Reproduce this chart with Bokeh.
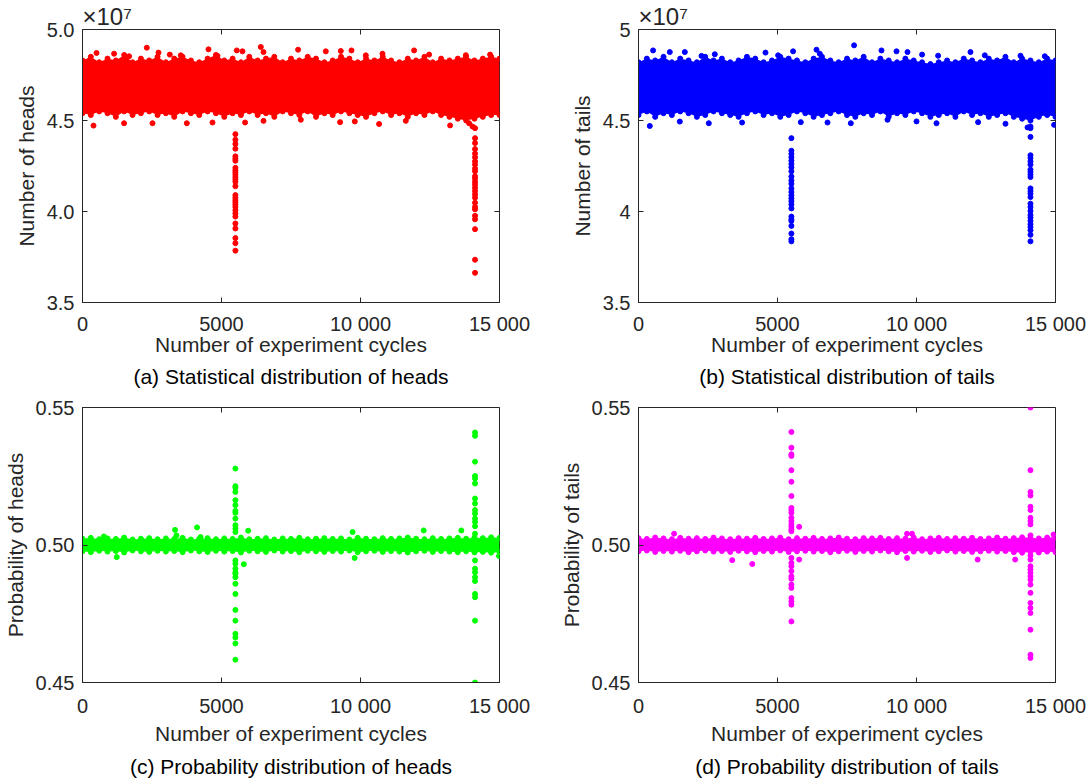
import math
from bokeh.plotting import figure
from bokeh.layouts import column, row
from bokeh.models import Range1d, Title, FixedTicker
from bokeh.embed import file_html
from bokeh.resources import INLINE

# ---------------- data ----------------
x_ticks = [0, 5000, 10000, 15000]
x_tick_labels = ["0", "5000", "10 000", "15 000"]

band_x = [0, 300, 600, 900, 1200, 1500, 1800, 2100, 2400, 2700,
          3000, 3300, 3600, 3900, 4200, 4500, 4800, 5100, 5400, 5700,
          6000, 6300, 6600, 6900, 7200, 7500, 7800, 8100, 8400, 8700,
          9000, 9300, 9600, 9900, 10200, 10500, 10800, 11100, 11400, 11700,
          12000, 12300, 12600, 12900, 13200, 13500, 13800, 14100, 14400, 14700, 15000]

# (a) heads count, units of 1e7
heads_upper = [4.83, 4.85, 4.82, 4.84, 4.83, 4.86, 4.82, 4.84, 4.83, 4.85,
               4.82, 4.84, 4.85, 4.83, 4.82, 4.84, 4.86, 4.83, 4.84, 4.82,
               4.85, 4.83, 4.84, 4.85, 4.82, 4.84, 4.83, 4.85, 4.84, 4.82,
               4.83, 4.85, 4.84, 4.82, 4.84, 4.83, 4.85, 4.83, 4.82, 4.84,
               4.83, 4.85, 4.82, 4.84, 4.83, 4.84, 4.85, 4.83, 4.84, 4.85, 4.84]
heads_lower = [4.54, 4.53, 4.55, 4.54, 4.52, 4.55, 4.53, 4.54, 4.55, 4.53,
               4.54, 4.52, 4.55, 4.54, 4.53, 4.55, 4.54, 4.52, 4.54, 4.53,
               4.55, 4.53, 4.54, 4.52, 4.55, 4.54, 4.53, 4.55, 4.52, 4.54,
               4.53, 4.55, 4.54, 4.53, 4.52, 4.54, 4.55, 4.53, 4.54, 4.52,
               4.54, 4.53, 4.55, 4.53, 4.52, 4.51, 4.50, 4.51, 4.52, 4.53, 4.53]
heads_out_x = [504, 1137, 1676, 2313, 2734, 3140, 3536, 4532, 4856, 5550, 5755,
               6414, 6511, 7755, 8752, 9291, 9676, 10191, 10791, 11928, 12468,
               13789, 14662,
               396, 1496, 2518, 3752, 4676, 5849, 6511, 7853, 9266, 9795,
               10669, 11630, 13223, 13907, 14029]
heads_out_y = [4.871, 4.867, 4.853, 4.900, 4.873, 4.862, 4.858, 4.891, 4.855, 4.885, 4.880,
               4.904, 4.876, 4.889, 4.880, 4.882, 4.885, 4.858, 4.867, 4.885, 4.862,
               4.859, 4.862,
               4.472, 4.485, 4.485, 4.485, 4.489, 4.489, 4.498, 4.504, 4.491, 4.495,
               4.481, 4.498, 4.473, 4.485, 4.467]
heads_spike1_x = 5500
heads_spike1 = [4.425, 4.394, 4.371, 4.345, 4.303, 4.290, 4.279, 4.240, 4.227, 4.216,
                4.203, 4.189, 4.176, 4.163, 4.139, 4.090, 4.076, 4.063, 4.052, 4.039,
                4.025, 4.007, 3.990, 3.972, 3.934, 3.907, 3.854, 3.826, 3.785]
heads_spike2_x = 14120
heads_spike2 = [4.458, 4.403, 4.376, 4.343, 4.318, 4.298, 4.276, 4.258, 4.236, 4.221,
                4.194, 4.181, 4.163, 4.148, 4.130, 4.112, 4.094, 4.076, 4.048, 4.025,
                4.012, 3.976, 3.957, 3.903, 3.735, 3.663]

# (b) tails count, units of 1e7
tails_upper = [4.82, 4.84, 4.83, 4.85, 4.82, 4.84, 4.83, 4.82, 4.85, 4.83,
               4.84, 4.82, 4.83, 4.85, 4.84, 4.82, 4.83, 4.85, 4.84, 4.83,
               4.82, 4.84, 4.85, 4.83, 4.82, 4.84, 4.83, 4.85, 4.82, 4.84,
               4.83, 4.82, 4.84, 4.83, 4.82, 4.81, 4.82, 4.83, 4.82, 4.84,
               4.83, 4.82, 4.84, 4.83, 4.85, 4.82, 4.84, 4.83, 4.82, 4.84, 4.83]
tails_lower = [4.53, 4.55, 4.52, 4.54, 4.53, 4.55, 4.54, 4.52, 4.53, 4.55,
               4.54, 4.53, 4.52, 4.54, 4.55, 4.53, 4.54, 4.52, 4.53, 4.55,
               4.54, 4.52, 4.53, 4.54, 4.55, 4.53, 4.52, 4.54, 4.53, 4.55,
               4.52, 4.54, 4.53, 4.55, 4.54, 4.52, 4.53, 4.54, 4.52, 4.55,
               4.53, 4.54, 4.52, 4.53, 4.54, 4.52, 4.51, 4.50, 4.52, 4.53, 4.52]
tails_out_x = [525, 1126, 1666, 2266, 2745, 4568, 5022, 5561, 6403, 6522, 7755,
               8741, 9281, 9676, 10201, 10777, 11942, 12457, 13741, 14615,
               406, 1486, 2529, 3727, 5838, 6799, 7637, 8957, 10000, 10719,
               12216, 13201, 13993, 14950]
tails_out_y = [4.885, 4.876, 4.876, 4.855, 4.864, 4.873, 4.858, 4.880, 4.889, 4.867, 4.913,
               4.885, 4.880, 4.876, 4.862, 4.856, 4.876, 4.858, 4.856, 4.853,
               4.470, 4.494, 4.485, 4.489, 4.491, 4.489, 4.485, 4.504, 4.495, 4.485,
               4.491, 4.482, 4.462, 4.476]
tails_spike1_x = 5500
tails_spike1 = [4.403, 4.334, 4.316, 4.298, 4.279, 4.261, 4.243, 4.221, 4.192, 4.170,
                4.152, 4.127, 4.107, 4.088, 4.072, 4.057, 4.039, 4.017, 3.972, 3.957,
                3.948, 3.921, 3.879, 3.848, 3.836]
tails_spike2_x = 14100
tails_spike2 = [4.467, 4.458, 4.410, 4.309, 4.294, 4.276, 4.258, 4.230, 4.218, 4.203,
                4.189, 4.127, 4.112, 4.098, 4.079, 4.043, 4.025, 4.003, 3.981, 3.967,
                3.948, 3.930, 3.915, 3.897, 3.872, 3.836]

# (c) probability of heads
pheads_upper = [0.5023, 0.5026, 0.5021, 0.5024, 0.5022, 0.5027, 0.5020, 0.5023, 0.5025, 0.5021,
                0.5024, 0.5022, 0.5026, 0.5020, 0.5023, 0.5025, 0.5021, 0.5024, 0.5022, 0.5027,
                0.5021, 0.5023, 0.5025, 0.5020, 0.5024, 0.5022, 0.5026, 0.5021, 0.5023, 0.5025,
                0.5022, 0.5024, 0.5020, 0.5026, 0.5023, 0.5021, 0.5025, 0.5022, 0.5024, 0.5027,
                0.5023, 0.5021, 0.5025, 0.5022, 0.5024, 0.5026, 0.5023, 0.5027, 0.5025, 0.5028, 0.5026]
pheads_lower = [0.4977, 0.4974, 0.4979, 0.4976, 0.4978, 0.4973, 0.4980, 0.4977, 0.4975, 0.4979,
                0.4976, 0.4978, 0.4974, 0.4980, 0.4977, 0.4975, 0.4979, 0.4976, 0.4978, 0.4973,
                0.4979, 0.4977, 0.4975, 0.4980, 0.4976, 0.4978, 0.4974, 0.4979, 0.4977, 0.4975,
                0.4978, 0.4976, 0.4980, 0.4974, 0.4977, 0.4979, 0.4975, 0.4978, 0.4976, 0.4973,
                0.4977, 0.4979, 0.4975, 0.4978, 0.4976, 0.4974, 0.4977, 0.4973, 0.4975, 0.4972, 0.4974]
pheads_out_x = [768, 3330, 3380, 4120, 4250, 5960, 5802, 9716, 12273, 13628, 1233, 9790, 14980]
pheads_out_y = [0.5031, 0.5055, 0.5035, 0.5064, 0.5029, 0.5052, 0.4930, 0.5047, 0.5053, 0.5053,
                0.4956, 0.4953, 0.4960]
pheads_spike1_x = 5500
pheads_spike1 = [0.5278, 0.5214, 0.5208, 0.5193, 0.5163, 0.5145, 0.5124, 0.5117, 0.5096, 0.5072,
                 0.5060, 0.5047, 0.4944, 0.4932, 0.4914, 0.4901, 0.4895, 0.4883, 0.4859, 0.4822,
                 0.4764, 0.4725, 0.4677, 0.4664, 0.4642, 0.4583]
pheads_spike2_x = 14120
pheads_spike2 = [0.5409, 0.5397, 0.5303, 0.5251, 0.5242, 0.5224, 0.5169, 0.5151, 0.5127, 0.5114,
                 0.5096, 0.5084, 0.5068, 0.5041, 0.4944, 0.4914, 0.4901, 0.4883, 0.4869, 0.4822,
                 0.4810, 0.4725, 0.4500]

# (d) probability of tails
ptails_upper = [0.5025, 0.5022, 0.5027, 0.5024, 0.5021, 0.5026, 0.5023, 0.5025, 0.5022, 0.5027,
                0.5024, 0.5021, 0.5025, 0.5023, 0.5026, 0.5022, 0.5024, 0.5027, 0.5021, 0.5025,
                0.5023, 0.5026, 0.5022, 0.5024, 0.5027, 0.5023, 0.5021, 0.5025, 0.5024, 0.5026,
                0.5022, 0.5025, 0.5023, 0.5027, 0.5021, 0.5024, 0.5026, 0.5022, 0.5025, 0.5023,
                0.5026, 0.5022, 0.5024, 0.5027, 0.5023, 0.5025, 0.5028, 0.5026, 0.5024, 0.5027, 0.5028]
ptails_lower = [0.4977, 0.4980, 0.4975, 0.4978, 0.4976, 0.4979, 0.4974, 0.4977, 0.4980, 0.4976,
                0.4978, 0.4975, 0.4979, 0.4977, 0.4974, 0.4978, 0.4976, 0.4980, 0.4975, 0.4977,
                0.4979, 0.4976, 0.4978, 0.4974, 0.4977, 0.4979, 0.4975, 0.4978, 0.4976, 0.4980,
                0.4977, 0.4974, 0.4978, 0.4976, 0.4979, 0.4975, 0.4977, 0.4980, 0.4976, 0.4978,
                0.4975, 0.4977, 0.4979, 0.4976, 0.4978, 0.4974, 0.4972, 0.4975, 0.4973, 0.4976, 0.4974]
ptails_out_x = [1280, 3372, 4092, 5780, 5780, 9660, 9840, 9660, 12200, 13550, 14930]
ptails_out_y = [0.5041, 0.4945, 0.4931, 0.4947, 0.5066, 0.5041, 0.5041, 0.4953, 0.4947, 0.4947, 0.5038]
ptails_spike1_x = 5500
ptails_spike1 = [0.5411, 0.5354, 0.5330, 0.5324, 0.5272, 0.5230, 0.5178, 0.5135, 0.5127, 0.5117,
                 0.5099, 0.5087, 0.5075, 0.5066, 0.5057, 0.5050, 0.4953, 0.4935, 0.4923, 0.4905,
                 0.4886, 0.4877, 0.4856, 0.4844, 0.4807, 0.4795, 0.4783, 0.4722]
ptails_spike2_x = 14100
ptails_spike2 = [0.5500, 0.5272, 0.5193, 0.5180, 0.5139, 0.5127, 0.5099, 0.5087, 0.5075, 0.5035,
                 0.4962, 0.4947, 0.4923, 0.4911, 0.4899, 0.4886, 0.4874, 0.4856, 0.4826, 0.4789,
                 0.4771, 0.4753, 0.4692, 0.4601, 0.4589]

# ---------------- styling ----------------
FONT = "Liberation Sans"
AX = "#262626"
TICK_FS = "20px"
LAB_FS = "21px"


def panel(width, height, borders, yr, yticks, ylabels, ylabel, caption, color,
          upper, lower, out_x, out_y, s1x, s1, s2x, s2, exponent, tick_standoff,
          label_standoff, cap_standoff):
    bl, br, bt, bb = borders
    p = figure(width=width, height=height, x_range=Range1d(0, 15000),
               y_range=Range1d(*yr), output_backend="svg", toolbar_location=None,
               min_border_left=bl, min_border_right=br, min_border_top=bt,
               min_border_bottom=bb)
    p.grid.visible = False
    p.outline_line_color = AX
    p.outline_line_width = 1
    p.background_fill_color = "white"
    p.border_fill_color = "white"

    xa = p.below[0]
    ya = p.left[0]
    for ax in (xa, ya):
        ax.major_tick_in = 5
        ax.major_tick_out = 0
        ax.minor_tick_line_color = None
        ax.axis_line_color = AX
        ax.major_tick_line_color = AX
        ax.major_label_text_color = AX
        ax.major_label_text_font = FONT
        ax.major_label_text_font_size = TICK_FS
        ax.axis_label_text_font = FONT
        ax.axis_label_text_font_size = LAB_FS
        ax.axis_label_text_font_style = "normal"
        ax.axis_label_text_color = AX
    xa.ticker = FixedTicker(ticks=x_ticks)
    xa.major_label_overrides = {t: s for t, s in zip(x_ticks, x_tick_labels)}
    xa.axis_label = "Number of experiment cycles"
    xa.major_label_standoff = tick_standoff
    xa.axis_label_standoff = label_standoff
    ya.ticker = FixedTicker(ticks=yticks)
    ya.major_label_overrides = {t: s for t, s in zip(yticks, ylabels)}
    ya.axis_label = ylabel
    ya.major_label_standoff = 8
    ya.axis_label_standoff = 6

    # mirrored inward ticks on top / right edges
    p.ray(x=x_ticks, y=[yr[1]] * len(x_ticks), length=5, length_units="screen",
          angle=-math.pi / 2, line_color=AX, line_width=1)
    p.ray(x=[15000] * len(yticks), y=yticks, length=5, length_units="screen",
          angle=math.pi, line_color=AX, line_width=1)

    # dense band of points
    p.varea(x=band_x, y1=lower, y2=upper, fill_color=color)
    p.scatter(x=band_x, y=upper, size=5, color=color)
    p.scatter(x=band_x, y=lower, size=5, color=color)
    p.scatter(x=out_x, y=out_y, size=5, color=color)
    p.scatter(x=[s1x] * len(s1), y=s1, size=5, color=color)
    p.scatter(x=[s2x] * len(s2), y=s2, size=5, color=color)

    if exponent:
        p.add_layout(Title(text="\u00d710\u2077", align="left", text_font=FONT,
                           text_font_size="24px", text_font_style="normal",
                           text_color=AX, standoff=0, offset=0), "above")

    p.add_layout(Title(text=caption, align="center", text_font=FONT,
                       text_font_size=LAB_FS, text_font_style="normal",
                       text_color="black", standoff=cap_standoff), "below")
    return p


pa = panel(545, 392, (82, 46, 29, 89), (3.5, 5.0), [3.5, 4.0, 4.5, 5.0],
           ["3.5", "4.0", "4.5", "5.0"], "Number of heads",
           "(a) Statistical distribution of heads", "#ff0000",
           heads_upper, heads_lower, heads_out_x, heads_out_y,
           heads_spike1_x, heads_spike1, heads_spike2_x, heads_spike2, True, 10, -5, 9)
pb = panel(545, 392, (93, 35, 29, 89), (3.5, 5.0), [3.5, 4.0, 4.5, 5.0],
           ["3.5", "4", "4.5", "5"], "Number of tails",
           "(b) Statistical distribution of tails", "#0000ff",
           tails_upper, tails_lower, tails_out_x, tails_out_y,
           tails_spike1_x, tails_spike1, tails_spike2_x, tails_spike2, True, 10, -5, 9)
pc = panel(545, 390, (82, 46, 15, 100), (0.45, 0.55), [0.45, 0.50, 0.55],
           ["0.45", "0.50", "0.55"], "Probability of heads",
           "(c) Probability distribution of heads", "#00ff00",
           pheads_upper, pheads_lower, pheads_out_x, pheads_out_y,
           pheads_spike1_x, pheads_spike1, pheads_spike2_x, pheads_spike2, False, 12, 2, 10)
pd = panel(545, 390, (93, 35, 15, 100), (0.45, 0.55), [0.45, 0.50, 0.55],
           ["0.45", "0.50", "0.55"], "Probability of tails",
           "(d) Probability distribution of tails", "#ff00ff",
           ptails_upper, ptails_lower, ptails_out_x, ptails_out_y,
           ptails_spike1_x, ptails_spike1, ptails_spike2_x, ptails_spike2, False, 12, 2, 10)

layout = column(row(pa, pb), row(pc, pd))
open("out.html", "w").write(file_html(layout, INLINE))
